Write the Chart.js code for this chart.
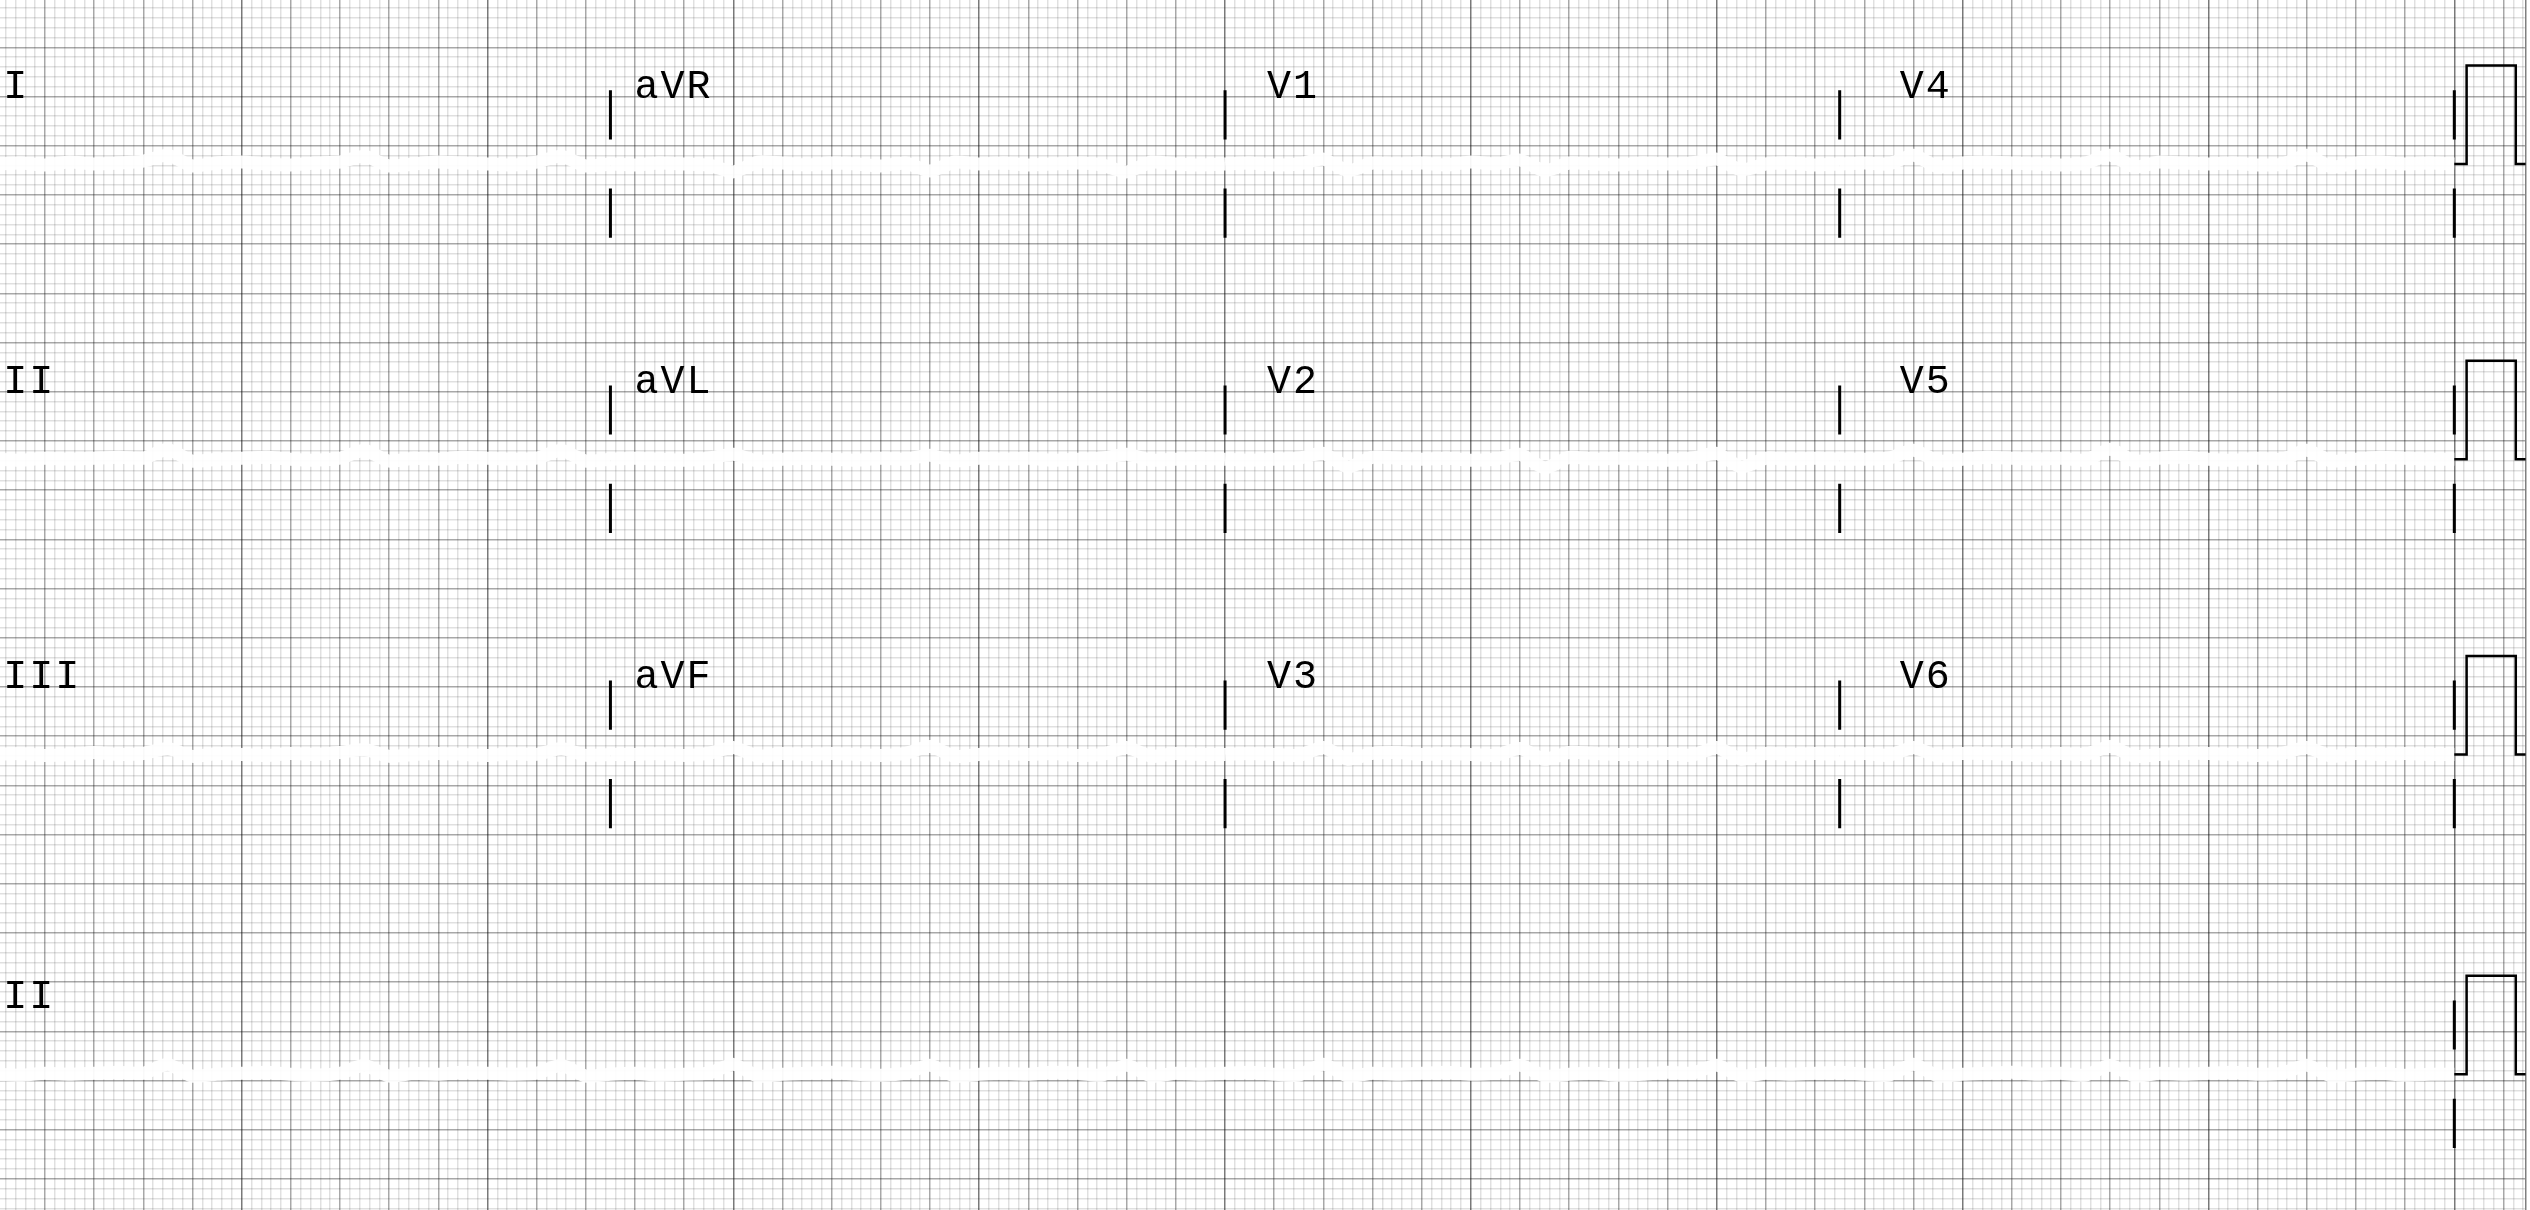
<!DOCTYPE html>
<html>
<head>
<meta charset="utf-8">
<title>12-lead ECG</title>
<script src="https://cdn.jsdelivr.net/npm/chart.js@4.4.1/dist/chart.umd.min.js"></script>
<style>
    html, body { margin: 0; padding: 0; background: #fff; }
    canvas { display: block; }
</style>
</head>
<body>
<canvas id="ecgChart" width="2530" height="1210"></canvas>
<script>
// 3 rows x 4 columns of 2.5 s, then a 10 s rhythm strip
const leadRows = [
    ['I', 'aVR', 'V1', 'V4'],
    ['II', 'aVL', 'V2', 'V5'],
    ['III', 'aVF', 'V3', 'V6']
];
const rhythmLead = 'II';

const secondsPerColumn = 2.5;
const sampleStep = 0.1; // seconds between samples below

// mV, one sample every 0.1 s
const leadI   = [0.00, 0.01, -0.01, 0.02, 0.00, 0.01, 0.03, 0.09, -0.02, 0.01, 0.02, 0.00, -0.01, 0.01, 0.02, 0.08, -0.02, 0.00, 0.02, 0.01, 0.00, -0.01, 0.02, 0.08, -0.02, 0.00];
const leadAVR = [0.00, -0.01, 0.01, 0.00, -0.01, -0.08, 0.02, 0.01, -0.01, 0.01, 0.00, -0.02, 0.01, -0.07, 0.02, 0.00, 0.01, -0.01, 0.00, 0.01, -0.01, -0.08, 0.02, 0.00, -0.01, 0.00];
const leadV1  = [0.00, 0.01, -0.01, 0.00, 0.05, -0.07, 0.01, 0.00, 0.01, -0.01, 0.02, 0.00, 0.04, -0.07, 0.01, 0.00, -0.01, 0.01, 0.00, 0.01, 0.05, -0.06, 0.00, 0.01, -0.01, 0.00];
const leadV4  = [0.00, 0.01, 0.00, 0.09, -0.03, 0.01, 0.02, 0.01, 0.00, -0.01, 0.01, 0.09, -0.03, 0.02, 0.01, 0.00, 0.01, -0.01, 0.00, 0.09, -0.03, 0.01, 0.02, 0.00, 0.01, 0.00];

const leadII  = [0.00, -0.01, 0.01, 0.00, 0.01, 0.02, 0.01, 0.10, -0.02, 0.00, 0.01, 0.02, 0.00, -0.01, 0.01, 0.09, -0.02, 0.01, 0.00, 0.02, 0.01, 0.00, 0.01, 0.09, -0.02, 0.00];
const leadAVL = [0.00, 0.01, 0.00, -0.01, 0.01, 0.05, -0.02, 0.00, 0.01, 0.00, -0.01, 0.01, 0.00, 0.04, -0.02, 0.01, 0.00, 0.01, -0.01, 0.00, 0.01, 0.05, -0.01, 0.00, 0.01, 0.00];
const leadV2  = [0.00, -0.01, 0.00, 0.01, 0.06, -0.08, 0.02, 0.01, 0.00, 0.01, -0.01, 0.00, 0.05, -0.09, 0.02, 0.00, 0.01, 0.00, -0.01, 0.01, 0.06, -0.08, 0.01, 0.00, 0.01, 0.00];
const leadV5  = [0.00, 0.00, 0.01, 0.09, -0.02, 0.00, 0.02, 0.01, 0.00, 0.01, -0.01, 0.10, -0.02, 0.01, 0.02, 0.00, -0.01, 0.01, 0.00, 0.09, -0.02, 0.00, 0.02, 0.01, 0.00, 0.00];

const leadIII = [0.00, 0.01, -0.01, 0.00, 0.02, 0.00, 0.01, 0.06, -0.02, 0.01, 0.00, -0.01, 0.01, 0.00, 0.02, 0.05, -0.02, 0.00, 0.01, 0.00, -0.01, 0.01, 0.00, 0.06, -0.01, 0.00];
const leadAVF = [0.00, 0.00, 0.01, -0.01, 0.01, 0.07, -0.02, 0.01, 0.00, 0.01, 0.00, -0.01, 0.01, 0.08, -0.02, 0.00, 0.01, 0.00, 0.01, -0.01, 0.00, 0.07, -0.02, 0.01, 0.00, 0.00];
const leadV3  = [0.00, 0.01, 0.00, -0.01, 0.07, -0.05, 0.01, 0.02, 0.00, 0.01, 0.00, -0.01, 0.06, -0.05, 0.02, 0.01, 0.00, 0.00, 0.01, -0.01, 0.07, -0.05, 0.01, 0.00, 0.01, 0.00];
const leadV6  = [0.00, 0.01, -0.01, 0.07, -0.02, 0.01, 0.01, 0.00, -0.01, 0.01, 0.00, 0.08, -0.02, 0.00, 0.01, 0.01, 0.00, -0.01, 0.01, 0.07, -0.02, 0.01, 0.00, 0.01, 0.00, 0.00];

const rhythmII = [
    0.00, -0.01, 0.01, 0.00, 0.01, 0.02, 0.01, 0.10, -0.02, 0.00,
    0.01, 0.02, 0.00, -0.01, 0.01, 0.09, -0.02, 0.01, 0.00, 0.02,
    0.01, 0.00, 0.01, 0.09, -0.02, 0.00, 0.01, -0.01, 0.00, 0.01,
    0.10, -0.02, 0.00, 0.01, 0.02, 0.00, -0.01, 0.01, 0.09, -0.02,
    0.00, 0.01, 0.00, 0.02, 0.01, -0.01, 0.09, -0.02, 0.01, 0.00,
    0.01, 0.02, 0.00, -0.01, 0.10, -0.02, 0.01, 0.00, 0.01, 0.02,
    0.00, 0.01, 0.09, -0.02, 0.00, 0.01, -0.01, 0.00, 0.02, 0.01,
    0.09, -0.02, 0.01, 0.00, 0.01, 0.02, 0.00, -0.01, 0.10, -0.02,
    0.00, 0.01, 0.02, 0.00, 0.01, -0.01, 0.09, -0.02, 0.01, 0.00,
    0.01, 0.02, 0.00, 0.01, 0.09, -0.02, 0.00, 0.01, -0.01, 0.00,
    0.00
];

const leadSignals = [
    [leadI, leadAVR, leadV1, leadV4],
    [leadII, leadAVL, leadV2, leadV5],
    [leadIII, leadAVF, leadV3, leadV6]
];

// 1 mV calibration pulse, time relative to the end of the strip
const calTimes  = [0, 0.05, 0.05, 0.25, 0.25, 0.29];
const calValues = [0, 0, 1, 1, 0, 0];

// layout (mV baseline of each row, label placement)
const rowOffsets = [-1.186, -4.186, -7.186, -10.436];
const labelTimes = [0.03, 2.598, 5.171, 7.744];
const labelLift = 0.675;
const markSpan = [0.25, 0.75];
const stripEnd = 10;

const isStep = (v, step) => Math.abs(v / step - Math.round(v / step)) < 1e-6;

document.addEventListener('DOMContentLoaded', function() {
    const datasets = [];

    const traceStyle = {
        borderColor: 'rgba(255, 255, 255, 0.93)',
        borderWidth: 13,
        pointRadius: 0,
        tension: 0.2,
        order: 2
    };
    const markStyle = {
        borderColor: '#000',
        pointRadius: 0,
        tension: 0,
        order: 1
    };

    leadSignals.forEach((row, r) => {
        row.forEach((values, c) => {
            datasets.push(Object.assign({
                data: values.map((v, i) => ({ x: c * secondsPerColumn + i * sampleStep, y: v + rowOffsets[r] }))
            }, traceStyle));
        });
    });
    datasets.push(Object.assign({
        data: rhythmII.map((v, i) => ({ x: i * sampleStep, y: v + rowOffsets[3] }))
    }, traceStyle));

    // column separators and calibration pulses
    rowOffsets.forEach((base, r) => {
        const cols = r < 3 ? [1, 2, 3, 4] : [4];
        cols.forEach(c => {
            const t = c * secondsPerColumn;
            datasets.push(Object.assign({
                borderWidth: 3,
                data: [
                    { x: t, y: base + markSpan[0] }, { x: t, y: base + markSpan[1] },
                    { x: t, y: null },
                    { x: t, y: base - markSpan[0] }, { x: t, y: base - markSpan[1] }
                ]
            }, markStyle));
        });
        datasets.push(Object.assign({
            borderWidth: 2.5,
            data: calTimes.map((t, i) => ({ x: stripEnd + t, y: base + calValues[i] }))
        }, markStyle));
    });

    const gridColor = (v, secStep, majorStep) => {
        if (secStep && isStep(v, secStep)) return 'rgba(0, 0, 0, 0.52)';
        if (isStep(v, majorStep)) return 'rgba(0, 0, 0, 0.34)';
        return 'rgba(0, 0, 0, 0.12)';
    };

    const leadLabels = {
        id: 'leadLabels',
        afterDatasetsDraw(chart) {
            const { ctx, scales: { x, y } } = chart;
            ctx.save();
            ctx.font = '40px "Liberation Mono", "Courier New", monospace';
            ctx.letterSpacing = '2px';
            ctx.fillStyle = '#000';
            ctx.textBaseline = 'alphabetic';
            leadRows.forEach((names, r) => {
                names.forEach((name, c) => {
                    ctx.fillText(name, x.getPixelForValue(labelTimes[c]), y.getPixelForValue(rowOffsets[r] + labelLift));
                });
            });
            ctx.fillText(rhythmLead, x.getPixelForValue(labelTimes[0]), y.getPixelForValue(rowOffsets[3] + labelLift));
            ctx.restore();
        }
    };

    const ctxEcg = document.getElementById('ecgChart').getContext('2d');
    new Chart(ctxEcg, {
        type: 'line',
        data: { datasets: datasets },
        plugins: [leadLabels],
        options: {
            responsive: false,
            animation: false,
            devicePixelRatio: 1,
            layout: { padding: { left: 0, right: 4, top: 0, bottom: 0 } },
            plugins: {
                legend: { display: false },
                tooltip: { enabled: false }
            },
            scales: {
                x: {
                    type: 'linear',
                    min: 0.01708,
                    max: 10.2916,
                    afterBuildTicks: scale => {
                        const ticks = [];
                        for (let k = 1; k * 0.04 <= scale.max; k++) ticks.push({ value: k * 0.04 });
                        scale.ticks = ticks;
                    },
                    ticks: { display: false, autoSkip: false },
                    grid: {
                        drawTicks: false,
                        tickLength: 0,
                        lineWidth: 1.5,
                        color: ctx => gridColor(ctx.tick.value, 1, 0.2)
                    },
                    border: { display: false }
                },
                y: {
                    type: 'linear',
                    position: 'right',
                    min: -11.816,
                    max: 0.4807,
                    afterBuildTicks: scale => {
                        const ticks = [];
                        for (let k = Math.ceil(scale.min / 0.1); k * 0.1 <= scale.max; k++) ticks.push({ value: k * 0.1 });
                        scale.ticks = ticks;
                    },
                    ticks: { display: false, autoSkip: false },
                    grid: {
                        drawTicks: false,
                        tickLength: 0,
                        lineWidth: 1.5,
                        color: ctx => gridColor(ctx.tick.value, 0, 0.5)
                    },
                    border: { display: true, color: 'rgba(0, 0, 0, 0.5)', width: 1.5 }
                }
            }
        }
    });
});
</script>
</body>
</html>
